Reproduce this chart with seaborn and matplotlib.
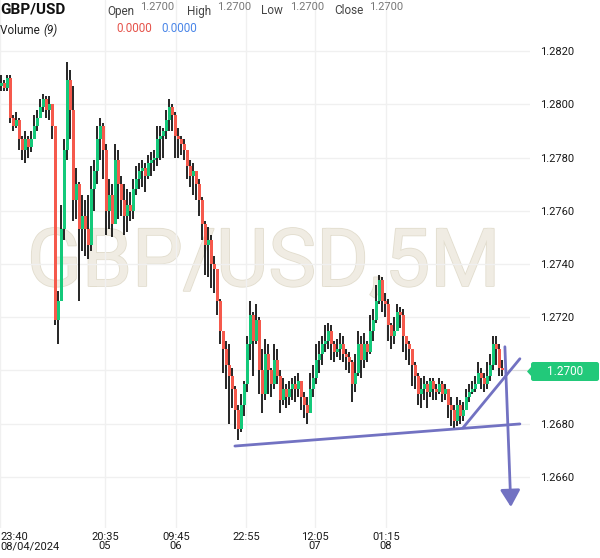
import numpy as np
import pandas as pd
import matplotlib
matplotlib.use("Agg")
import matplotlib.pyplot as plt
import seaborn as sns
from matplotlib.patches import FancyBboxPatch, Polygon
import matplotlib.patheffects as pe

# ---------------- data ----------------
first_open = 1.2807
closes = [1.2808, 1.2806, 1.2810, 1.2795, 1.2792, 1.2794, 1.2787, 1.2783, 1.2787, 1.2784,
          1.2787, 1.2792, 1.2795, 1.2799, 1.2802, 1.2798, 1.2800, 1.2792, 1.2719, 1.2726,
          1.2753, 1.2783, 1.2809, 1.2798, 1.2764, 1.2770, 1.2753, 1.2758, 1.2753, 1.2747,
          1.2768, 1.2775, 1.2787, 1.2792, 1.2783, 1.2760, 1.2766, 1.2755, 1.2779, 1.2770,
          1.2764, 1.2758, 1.2762, 1.2760, 1.2768, 1.2772, 1.2775, 1.2776, 1.2773, 1.2778,
          1.2779, 1.2780, 1.2787, 1.2788, 1.2790, 1.2794, 1.2799, 1.2796, 1.2788, 1.2787,
          1.2785, 1.2783, 1.2777, 1.2773, 1.2775, 1.2770, 1.2764, 1.2755, 1.2747, 1.2749,
          1.2740, 1.2738, 1.2726, 1.2715, 1.2708, 1.2702, 1.2698, 1.2693, 1.2685, 1.2678,
          1.2687, 1.2695, 1.2710, 1.2721, 1.2711, 1.2719, 1.2700, 1.2691, 1.2706, 1.2700,
          1.2695, 1.2704, 1.2698, 1.2689, 1.2693, 1.2690, 1.2693, 1.2695, 1.2693, 1.2696,
          1.2690, 1.2687, 1.2684, 1.2693, 1.2697, 1.2704, 1.2706, 1.2710, 1.2711, 1.2715,
          1.2710, 1.2707, 1.2708, 1.2710, 1.2706, 1.2705, 1.2703, 1.2695, 1.2699, 1.2710,
          1.2704, 1.2710, 1.2707, 1.2715, 1.2719, 1.2726, 1.2734, 1.2726, 1.2725, 1.2717,
          1.2713, 1.2715, 1.2722, 1.2721, 1.2713, 1.2710, 1.2708, 1.2702, 1.2698, 1.2691,
          1.2693, 1.2695, 1.2692, 1.2696, 1.2693, 1.2692, 1.2695, 1.2691, 1.2693, 1.2687,
          1.2685, 1.2681, 1.2687, 1.2683, 1.2685, 1.2690, 1.2692, 1.2693, 1.2695, 1.2699,
          1.2697, 1.2695, 1.2698, 1.2702, 1.2710, 1.2708, 1.2701, 1.2700]
highs = [1.2811, 1.2809, 1.2811, 1.2811, 1.2796, 1.2797, 1.2795, 1.2788, 1.2790, 1.2788,
         1.2790, 1.2796, 1.2798, 1.2802, 1.2804, 1.2803, 1.2803, 1.2800, 1.2792, 1.2730,
         1.2762, 1.2787, 1.2816, 1.2813, 1.2807, 1.2776, 1.2771, 1.2766, 1.2764, 1.2766,
         1.2777, 1.2779, 1.2792, 1.2795, 1.2793, 1.2785, 1.2772, 1.2770, 1.2785, 1.2783,
         1.2773, 1.2770, 1.2768, 1.2767, 1.2772, 1.2777, 1.2778, 1.2779, 1.2778, 1.2781,
         1.2782, 1.2783, 1.2792, 1.2792, 1.2791, 1.2798, 1.2802, 1.2800, 1.2797, 1.2791,
         1.2788, 1.2787, 1.2783, 1.2779, 1.2778, 1.2775, 1.2772, 1.2765, 1.2756, 1.2754,
         1.2751, 1.2743, 1.2738, 1.2727, 1.2715, 1.2711, 1.2710, 1.2701, 1.2694, 1.2687,
         1.2691, 1.2696, 1.2713, 1.2726, 1.2722, 1.2725, 1.2720, 1.2708, 1.2712, 1.2710,
         1.2701, 1.2710, 1.2708, 1.2700, 1.2697, 1.2695, 1.2696, 1.2697, 1.2698, 1.2699,
         1.2696, 1.2692, 1.2690, 1.2699, 1.2702, 1.2710, 1.2711, 1.2713, 1.2717, 1.2718,
         1.2717, 1.2711, 1.2712, 1.2714, 1.2713, 1.2708, 1.2707, 1.2704, 1.2706, 1.2715,
         1.2713, 1.2714, 1.2711, 1.2721, 1.2723, 1.2732, 1.2736, 1.2735, 1.2729, 1.2727,
         1.2718, 1.2720, 1.2725, 1.2724, 1.2723, 1.2713, 1.2711, 1.2708, 1.2703, 1.2699,
         1.2697, 1.2698, 1.2696, 1.2697, 1.2697, 1.2695, 1.2697, 1.2696, 1.2695, 1.2693,
         1.2690, 1.2687, 1.2690, 1.2689, 1.2688, 1.2693, 1.2695, 1.2696, 1.2698, 1.2703,
         1.2701, 1.2699, 1.2703, 1.2706, 1.2713, 1.2713, 1.2710, 1.2704]
lows = [1.2805, 1.2805, 1.2805, 1.2793, 1.2790, 1.2791, 1.2783, 1.2779, 1.2778, 1.2780,
        1.2782, 1.2787, 1.2790, 1.2795, 1.2797, 1.2795, 1.2794, 1.2787, 1.2717, 1.2710,
        1.2726, 1.2749, 1.2779, 1.2787, 1.2756, 1.2757, 1.2726, 1.2745, 1.2743, 1.2742,
        1.2745, 1.2760, 1.2770, 1.2779, 1.2772, 1.2751, 1.2753, 1.2750, 1.2755, 1.2757,
        1.2758, 1.2751, 1.2752, 1.2756, 1.2757, 1.2766, 1.2768, 1.2769, 1.2767, 1.2772,
        1.2773, 1.2775, 1.2777, 1.2779, 1.2780, 1.2787, 1.2790, 1.2790, 1.2780, 1.2780,
        1.2781, 1.2779, 1.2772, 1.2769, 1.2766, 1.2764, 1.2758, 1.2749, 1.2736, 1.2735,
        1.2731, 1.2729, 1.2721, 1.2710, 1.2699, 1.2693, 1.2680, 1.2686, 1.2678, 1.2674,
        1.2677, 1.2683, 1.2692, 1.2704, 1.2698, 1.2710, 1.2691, 1.2684, 1.2689, 1.2691,
        1.2690, 1.2693, 1.2695, 1.2684, 1.2687, 1.2686, 1.2687, 1.2689, 1.2688, 1.2690,
        1.2685, 1.2682, 1.2680, 1.2684, 1.2690, 1.2695, 1.2699, 1.2702, 1.2707, 1.2708,
        1.2704, 1.2703, 1.2705, 1.2704, 1.2703, 1.2700, 1.2699, 1.2688, 1.2692, 1.2698,
        1.2697, 1.2701, 1.2703, 1.2706, 1.2711, 1.2718, 1.2725, 1.2722, 1.2720, 1.2711,
        1.2708, 1.2710, 1.2715, 1.2716, 1.2707, 1.2704, 1.2702, 1.2694, 1.2693, 1.2687,
        1.2686, 1.2689, 1.2686, 1.2690, 1.2689, 1.2689, 1.2691, 1.2688, 1.2689, 1.2682,
        1.2679, 1.2678, 1.2679, 1.2680, 1.2681, 1.2685, 1.2688, 1.2691, 1.2692, 1.2695,
        1.2693, 1.2692, 1.2693, 1.2696, 1.2700, 1.2702, 1.2698, 1.2698]

time_tick_pos = [-0.5, 34.5, 58.2, 81.5, 104.5, 128.2]
time_tick_labels = ["23:40\n08/04/2024", "20:35\n05", "09:45\n06", "22:55", "12:05\n07", "01:15\n08"]
price_ticks = [1.2660, 1.2680, 1.2700, 1.2720, 1.2740, 1.2760, 1.2780, 1.2800, 1.2820]
price_tick_labels = ["1.2660", "1.2680", "", "1.2720", "1.2740", "1.2760", "1.2780", "1.2800", "1.2820"]
last_price = 1.2700

# drawn annotations (index, price)
support_x = [77.8, 172.8]
support_y = [1.26716, 1.26799]
rising_x = [153.8, 172.8]
rising_y = [1.26784, 1.27044]
arrow_start = (167.8, 1.27089)
arrow_end = (169.8, 1.26487)

# ---------------- styling ----------------
sns.set_style("white")
plt.rcParams["font.family"] = ["Roboto", "DejaVu Sans"]

UP = "#14c97a"
DOWN = "#f5594c"
LINEC = "#7272c2"
W, H = 600, 558

fig = plt.figure(figsize=(W / 100, H / 100), dpi=100)
ax = fig.add_axes([0, 1 - 528 / H, 530 / W, 528 / H])

df = pd.DataFrame({"close": closes, "high": highs, "low": lows})
df["open"] = [first_open] + closes[:-1]
df["idx"] = np.arange(len(df))
df["up"] = df["close"] >= df["open"]

# watermark
ax.text(0.497, 0.50, "GBP/USD,5M", transform=ax.transAxes, ha="center", va="center",
        fontsize=58, color="#f0ece3", zorder=0,
        path_effects=[pe.withStroke(linewidth=1.2, foreground="#e2ddce")])

# wicks
ax.vlines(df["idx"], df["low"], df["high"], color="black", linewidth=1.2, zorder=2)
# bodies
body_bottom = np.minimum(df["open"], df["close"])
body_h = np.maximum(np.abs(df["close"] - df["open"]), 0.00003)
colors = np.where(df["up"], UP, DOWN)
ax.bar(df["idx"], body_h, bottom=body_bottom, width=0.9, color=colors, linewidth=0, zorder=3)

# trend lines via seaborn
sns.lineplot(x=support_x, y=support_y, ax=ax, color=LINEC, linewidth=2, zorder=4)
sns.lineplot(x=rising_x, y=rising_y, ax=ax, color=LINEC, linewidth=2, zorder=4)
ax.annotate("", xy=arrow_end, xytext=arrow_start,
            arrowprops=dict(arrowstyle="-|>,head_length=0.85,head_width=0.5",
                            color=LINEC, lw=2, shrinkA=0, shrinkB=0, mutation_scale=12),
            zorder=5)

# last price line
ax.plot([len(df) - 0.5, 176.2], [last_price, last_price], color="#dddddd", lw=0.8, zorder=1)

# axes setup
ax.set_xlim(-0.5, 176.17)
ax.set_ylim(1.26408, 1.28392)
ax.set_yticks(price_ticks)
ax.set_yticklabels(price_tick_labels)
ax.yaxis.tick_right()
ax.set_xticks(time_tick_pos)
ax.set_xticklabels(time_tick_labels, linespacing=0.9)
ax.tick_params(axis="both", length=0, labelsize=8, labelcolor="#1a1a1a")
ax.tick_params(axis="y", pad=7)
ax.tick_params(axis="x", pad=3)
for lbl in ax.get_xticklabels():
    lbl.set_verticalalignment("top")
ax.get_xticklabels()[0].set_horizontalalignment("left")
ax.grid(True, color="#f0f0f0", linewidth=1, zorder=0)
ax.set_axisbelow(True)
for s in ax.spines.values():
    s.set_visible(False)
ax.set_xlabel("")
ax.set_ylabel("")

# header
def ftext(x, y, s, **kw):
    fig.text(x / W, 1 - y / H, s, **kw)

ftext(0, 9, "GBP/USD", fontsize=11, fontweight="bold", color="#111111", va="center")
hdr = [("Open", 107, 140), ("High", 187, 217), ("Low", 261, 290), ("Close", 334, 369)]
for lab, xl, xv in hdr:
    ftext(xl, 11, lab, fontsize=8.5, color="#444444", va="center")
    ftext(xv, 7, "1.2700", fontsize=8, color="#777777", va="center")
ftext(0, 30, "Volume ", fontsize=8.5, color="#222222", va="center")
ftext(43, 30, "(9)", fontsize=8.5, color="#222222", va="center", style="italic")
ftext(116, 29, "0.0000", fontsize=8.5, color="#e5534b", va="center")
ftext(161, 29, "0.0000", fontsize=8.5, color="#4a86e8", va="center")

# price label
box = FancyBboxPatch((531 / W, 1 - 381 / H), 68 / W, 19 / H,
                     boxstyle="round,pad=0,rounding_size=0.004",
                     transform=fig.transFigure, facecolor="#22c97a", edgecolor="none",
                     zorder=10)
fig.patches.append(box)
notch = Polygon([(527 / W, 1 - 371.5 / H), (532 / W, 1 - 366 / H), (532 / W, 1 - 377 / H)],
                closed=True, transform=fig.transFigure, facecolor="#22c97a", edgecolor="none",
                zorder=10)
fig.patches.append(notch)
ftext(565, 371.5, "1.2700", fontsize=8.5, color="white", ha="center", va="center", zorder=11)

fig.savefig("out.png", dpi=100)
